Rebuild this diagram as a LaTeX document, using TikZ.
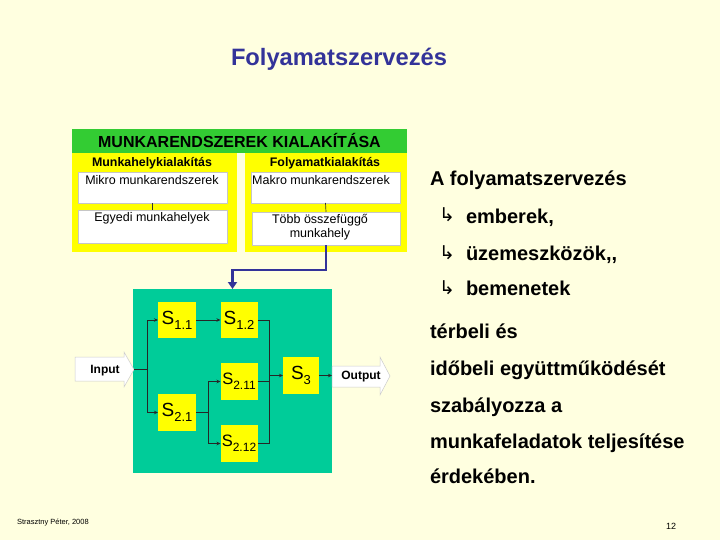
\documentclass[tikz,border=0pt]{standalone}
\usepackage{fontspec}
\setmainfont{Liberation Sans}
\newfontfamily\dejavu{DejaVu Sans}
\usetikzlibrary{arrows.meta}
\definecolor{bgc}{RGB}{255,255,224}
\definecolor{titleblue}{RGB}{51,51,153}
\definecolor{bargreen}{RGB}{51,204,51}
\definecolor{teal2}{RGB}{0,204,153}
\definecolor{yel}{RGB}{255,255,0}
\newcommand{\fs}[1]{\fontsize{#1}{#1}\selectfont}
\newcommand{\Slab}[3]{{\fs{#1}S}{\fs{#2}\raisebox{-5pt}{#3}}}
\tikzset{
  box/.style={inner sep=0pt, outer sep=0pt, minimum width=#1},
  panel/.style={fill=yel, draw=none},
  whitebox/.style={fill=white, draw=gray!45, line width=0.5pt},
  sbox/.style={fill=yel, draw=none, inner sep=0pt, outer sep=0pt},
  txt/.style={inner sep=0pt, outer sep=0pt, anchor=base},
  rtxt/.style={inner sep=0pt, outer sep=0pt, anchor=base west, font=\fs{20}\bfseries},
  bul/.style={inner sep=0pt, outer sep=0pt, anchor=base west, font=\dejavu\fs{19}},
  flow/.style={draw=black!85, line width=0.7pt},
  flowarr/.style={flow, -{Stealth[length=4pt,width=3.5pt]}},
  fatarrow/.style={fill=white, draw=gray!40, line width=0.5pt},
}
\begin{document}
\begin{tikzpicture}[x=1pt,y=-1pt]
\useasboundingbox (0,0) rectangle (720,540);
\fill[bgc] (0,0) rectangle (720,540);

% title
\node[txt, anchor=base west, font=\fs{23.7}\bfseries, text=titleblue] (title) at (231,66) {Folyamatszervezés};

% top structure
\node[panel, box=165pt, minimum height=99pt] (lpanel) at (154.5,202.5) {};
\node[panel, box=162pt, minimum height=99pt] (rpanel) at (326,202.5) {};
\node[fill=bargreen, box=335pt, minimum height=24pt] (bar) at (239.5,141) {};
\node[txt, font=\fs{16}\bfseries] (bartxt) at (239.5,147.5) {MUNKARENDSZEREK KIALAKÍTÁSA};
\node[txt, font=\fs{12.4}\bfseries] (lhead) at (152,167) {Munkahelykialakítás};
\node[txt, font=\fs{12.4}\bfseries] (rhead) at (325,167) {Folyamatkialakítás};

\node[whitebox, box=149pt, minimum height=31pt] (mikro) at (152.5,187.5) {};
\node[whitebox, box=149pt, minimum height=33pt] (egyedi) at (152.5,226.5) {};
\node[whitebox, box=149pt, minimum height=31pt] (makro) at (325.5,187.5) {};
\node[whitebox, box=148pt, minimum height=33pt] (tobb) at (326,228.5) {};

\node[txt, font=\fs{12.5}] (mikrot) at (152,185) {Mikro munkarendszerek};
\node[txt, font=\fs{12.5}] (egyedit) at (152,222) {Egyedi munkahelyek};
\node[txt, font=\fs{12.5}] (makrot) at (321,185) {Makro munkarendszerek};
\node[txt, font=\fs{12.5}] (tobbt1) at (320,223) {Több összefüggő};
\node[txt, font=\fs{12.5}] (tobbt2) at (320,237.5) {munkahely};

\draw[black!80, line width=0.7pt] (mikro.south) -- (egyedi.north);
\draw[black!80, line width=0.7pt] (makro.south) -- (tobb.north);

% big green square
\node[fill=teal2, box=199pt, minimum height=184pt] (big) at (232.5,381) {};

\draw[titleblue, line width=2.5pt, -{Triangle[length=7pt,width=9pt]}]
  (tobb.south) -- (tobb.south |- 0,270) -| (big.north);

% S boxes
\node[sbox, minimum width=38pt, minimum height=36pt] (s11) at (177,320) {\Slab{19}{13}{1.1}};
\node[sbox, minimum width=37pt, minimum height=36pt] (s12) at (239,320) {\Slab{19}{13}{1.2}};
\node[sbox, minimum width=37pt, minimum height=37pt] (s211) at (239,381.5) {\Slab{16.5}{12}{2.11}};
\node[sbox, minimum width=37pt, minimum height=37pt] (s212) at (239,443.5) {\Slab{16.5}{12}{2.12}};
\node[sbox, minimum width=38pt, minimum height=37pt] (s21) at (177,412.5) {\Slab{19}{13}{2.1}};
\node[sbox, minimum width=36pt, minimum height=37pt] (s3) at (301,375.5) {\Slab{19}{13}{3}};

% input / output fat arrows
\draw[fatarrow] (75,357) -- (124,357) -- (124,352) -- (134,369.5) -- (124,387) -- (124,381) -- (75,381) -- cycle;
\coordinate (intip) at (134,369.5);
\node[txt, font=\fs{12}\bfseries] (inputt) at (105,373.5) {Input};
\draw[fatarrow] (332,366) -- (380,366) -- (380,357) -- (390,376) -- (380,395) -- (380,387) -- (332,387) -- cycle;
\coordinate (outtail) at (332,375.5);
\node[txt, font=\fs{12}\bfseries] (outputt) at (361,379) {Output};

% inner flow
\coordinate (split) at (147,369.5);
\draw[flow] (intip) -- (split);
\draw[flowarr] (split) |- (s11.west);
\draw[flowarr] (split) |- (s21.west);
\draw[flowarr] (s11.east) -- (s12.west);
\coordinate (join) at (269,375.5);
\draw[flow] (s12.east) -| (join);
\draw[flow] (s212.east) -| (join);
\draw[flow] (s211.east) -- (s211.east -| join);
\draw[flowarr] (join) -- (s3.west);
\draw[flowarr] (s3.east) -- (outtail);
\coordinate (split2) at (208,412.5);
\draw[flow] (s21.east) -- (split2);
\draw[flowarr] (split2) |- (s211.west);
\draw[flowarr] (split2) |- (s212.west);

% right text
\node[rtxt] (r0) at (430,186) {A folyamatszervezés};
\node[bul] (b1) at (439,222) {↳};
\node[rtxt] (r1) at (466,223) {emberek,};
\node[bul] (b2) at (439,259) {↳};
\node[rtxt] (r2) at (466,260) {üzemeszközök,{},};
\node[bul] (b3) at (439,294) {↳};
\node[rtxt] (r3) at (466,295) {bemenetek};
\node[rtxt] (r4) at (430,338) {térbeli és};
\node[rtxt] (r5) at (430,375) {időbeli együttműködését};
\node[rtxt] (r6) at (430,412) {szabályozza a};
\node[rtxt] (r7) at (430,448) {munkafeladatok teljesítése};
\node[rtxt] (r8) at (430,483) {érdekében.};

% footer
\node[txt, anchor=base west, font=\fs{7.5}] (foot) at (17,524) {Strasztny Péter, 2008};
\node[txt, anchor=base west, font=\fs{9}] (pg) at (666,529) {12};
\end{tikzpicture}
\end{document}
